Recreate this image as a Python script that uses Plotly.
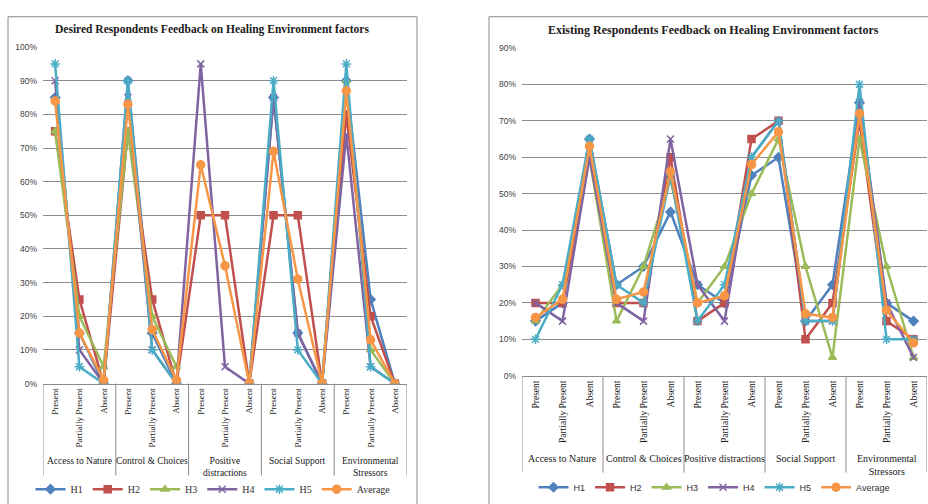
import plotly.graph_objects as go

# ---- data -------------------------------------------------------------
factors = ["Access to Nature", "Control & Choices", "Positive<br>distractions",
           "Social Support", "Environmental<br>Stressors"]
factors_existing = ["Access to Nature", "Control & Choices", "Positive distractions",
                    "Social Support", "Environmental<br>Stressors"]
levels = ["Present", "Partially Present", "Absent"]
series_names = ["H1", "H2", "H3", "H4", "H5", "Average"]

# Desired feedback (% of respondents); None = no response recorded
desired_h1 = [85, 15, 0, 90, 15, 0, None, None, 0, 85, 15, 0, 90, 25, 0]
desired_h2 = [75, 25, 0, 75, 25, 0, 50, 50, 0, 50, 50, 0, 80, 20, 0]
desired_h3 = [75, 20, 5, 75, 20, 5, None, None, 0, None, None, 0, 90, 10, 0]
desired_h4 = [90, 10, 0, 85, 10, 0, 95, 5, 0, 85, 15, 0, 74, 5, 0]
desired_h5 = [95, 5, 0, 90, 10, 0, None, None, 0, 90, 10, 0, 95, 5, 0]
desired_avg = [84, 15, 1, 83, 16, 1, 65, 35, 0, 69, 31, 0, 87, 13, 0]

# Existing feedback (% of respondents)
existing_h1 = [15, 20, 65, 25, 30, 45, 25, 20, 55, 60, 15, 25, 75, 20, 15]
existing_h2 = [20, 20, 60, 20, 20, 60, 15, 20, 65, 70, 10, 20, 70, 15, 10]
existing_h3 = [15, 25, 60, 15, 30, 54, 20, 30, 50, 65, 30, 5, 65, 30, 5]
existing_h4 = [20, 15, 60, 20, 15, 65, 25, 15, 60, 70, 15, 15, 75, 20, 5]
existing_h5 = [10, 25, 65, 25, 20, 55, 15, 25, 60, 70, 15, 15, 80, 10, 10]
existing_avg = [16, 21, 63, 21, 23, 56, 20, 22, 58, 67, 17, 16, 72, 18, 9]

desired = [desired_h1, desired_h2, desired_h3, desired_h4, desired_h5, desired_avg]
existing = [existing_h1, existing_h2, existing_h3, existing_h4, existing_h5, existing_avg]

colors = ["#4F81BD", "#C0504D", "#9BBB59", "#8064A2", "#4BACC6", "#F79646"]
symbols = ["diamond", "square", "triangle-up", "x-thin-open", "asterisk-open", "circle"]
msizes = [7, 7, 7, 7, 8, 8]

# ---- page geometry (pixels) ---------------------------------------------
W, H = 928, 504
def fx(px):
    return px / W
def fy(py):
    return 1 - py / H

positions = list(range(len(factors) * len(levels)))
tick_text = levels * len(factors)

fig = go.Figure()

for i, name in enumerate(series_names):
    common = dict(
        mode="lines+markers", name=name,
        line=dict(color=colors[i], width=2.5),
        marker=dict(symbol=symbols[i], size=msizes[i], color=colors[i],
                    line=dict(color=colors[i], width=1.5)),
        connectgaps=False,
    )
    fig.add_trace(go.Scatter(x=positions, y=desired[i], xaxis="x", yaxis="y",
                             legend="legend", **common))
    fig.add_trace(go.Scatter(x=positions, y=existing[i], xaxis="x2", yaxis="y2",
                             legend="legend2", **common))

# plot areas
L = dict(x0=43, x1=407, y_top=43, y_bot=387, sep_bot=481, lab_top=459)
R = dict(x0=522, x1=927, y_top=44, y_bot=379, sep_bot=478, lab_top=456)

grid = "#8c8c8c"
axis_common = dict(showgrid=False, zeroline=False, showline=True, linecolor=grid,
                   linewidth=1, ticks="", tickangle=-90,
                   tickvals=positions, ticktext=tick_text,
                   range=[-0.5, len(positions) - 0.5], fixedrange=True)
yaxis_common = dict(showgrid=True, gridcolor=grid, gridwidth=1, zeroline=False,
                    showline=False, ticks="", ticksuffix="%",
                    fixedrange=True, ticklabelstandoff=5)

fig.update_layout(
    width=W, height=H,
    margin=dict(l=0, r=0, t=0, b=0),
    paper_bgcolor="white", plot_bgcolor="white",
    xaxis=dict(domain=[fx(L["x0"]), fx(L["x1"])], anchor="y",
               tickfont=dict(family="Liberation Serif", size=9, color="#202020"),
               **axis_common),
    yaxis=dict(domain=[fy(L["y_bot"]), fy(L["y_top"])], anchor="x",
               range=[0, 100], dtick=10,
               tickfont=dict(family="Liberation Sans", size=8.5, color="#404040"),
               **yaxis_common),
    xaxis2=dict(domain=[fx(R["x0"]), fx(R["x1"])], anchor="y2",
                tickfont=dict(family="Liberation Serif", size=9.5, color="#202020"),
                **axis_common),
    yaxis2=dict(domain=[fy(R["y_bot"]), fy(R["y_top"])], anchor="x2",
                range=[0, 90], dtick=10,
                tickfont=dict(family="Liberation Sans", size=8.5, color="#404040"),
                **yaxis_common),
    legend=dict(orientation="h", x=fx(213), y=fy(495), xanchor="center", yanchor="middle",
                font=dict(family="Liberation Serif", size=10, color="#303030"),
                bgcolor="rgba(0,0,0,0)", itemwidth=30, tracegroupgap=0),
    legend2=dict(orientation="h", x=fx(714), y=fy(493), xanchor="center", yanchor="middle",
                 font=dict(family="Liberation Sans", size=9, color="#303030"),
                 bgcolor="rgba(0,0,0,0)", itemwidth=30, tracegroupgap=0),
    showlegend=True,
)

shapes = []
annotations = []

# chart frames
shapes.append(dict(type="rect", xref="paper", yref="paper",
                   x0=fx(8), x1=fx(417), y0=fy(520), y1=fy(12),
                   line=dict(color="#8a8a8a", width=1)))
shapes.append(dict(type="rect", xref="paper", yref="paper",
                   x0=fx(489), x1=fx(945), y0=fy(520), y1=fy(12),
                   line=dict(color="#8a8a8a", width=1)))

def add_groups(xref, yref, geo, names, size):
    height = geo["y_bot"] - geo["y_top"]
    sep = (geo["y_bot"] - geo["sep_bot"]) / height
    lab = (geo["y_bot"] - geo["lab_top"]) / height
    for g in range(len(names) + 1):
        xb = g * len(levels) - 0.5
        shapes.append(dict(type="line", xref=xref, yref=yref + " domain",
                           x0=xb, x1=xb, y0=0, y1=sep,
                           line=dict(color=grid, width=1)))
    for g, nm in enumerate(names):
        annotations.append(dict(xref=xref, yref=yref + " domain",
                                x=g * len(levels) + 1, y=lab, text=nm,
                                showarrow=False, xanchor="center", yanchor="top",
                                font=dict(family="Liberation Serif", size=size, color="#202020")))

add_groups("x", "y", L, factors, 9.5)
add_groups("x2", "y2", R, factors_existing, 10)

annotations.append(dict(xref="paper", yref="paper", x=fx(212), y=fy(25),
                        text="<b>Desired Respondents Feedback on Healing Environment factors</b>",
                        showarrow=False, xanchor="center", yanchor="middle",
                        font=dict(family="Liberation Serif", size=11.5, color="#202020")))
annotations.append(dict(xref="paper", yref="paper", x=fx(713), y=fy(26),
                        text="<b>Existing Respondents Feedback on Healing Environment factors</b>",
                        showarrow=False, xanchor="center", yanchor="middle",
                        font=dict(family="Liberation Serif", size=12, color="#202020")))

fig.update_layout(shapes=shapes, annotations=annotations)

fig.write_html("out.html")
